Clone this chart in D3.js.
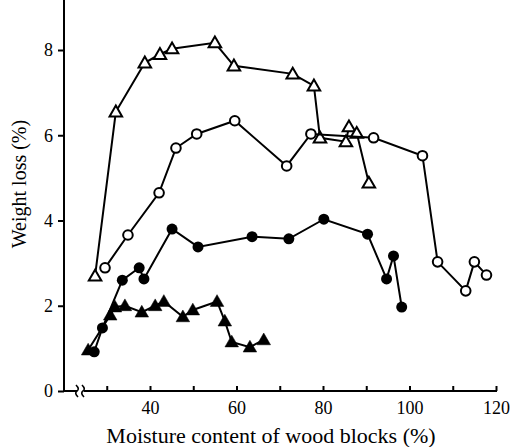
<!DOCTYPE html>
<html>
<head>
<meta charset="utf-8">
<script src="https://cdn.jsdelivr.net/npm/d3@7"></script>
<style>
  body { margin: 0; background: #fff; }
</style>
</head>
<body>
<script>
// moisture content (%) and weight loss (%) for each series
const openTriX = [27.3, 32.1, 38.8, 42.3, 45.1, 55.0, 59.4, 73.0, 77.9, 79.3, 85.3, 86.0, 87.8, 90.6];
const openTriY = [2.70, 6.55, 7.70, 7.90, 8.03, 8.17, 7.63, 7.44, 7.16, 5.94, 5.85, 6.20, 6.05, 4.88];

const openCircX = [29.6, 34.9, 42.1, 46.0, 50.8, 59.6, 71.6, 77.2, 91.7, 103.0, 106.5, 113.0, 115.0, 117.8];
const openCircY = [2.89, 3.66, 4.65, 5.70, 6.03, 6.34, 5.28, 6.03, 5.94, 5.52, 3.03, 2.35, 3.03, 2.72];

const fillCircX = [27.1, 29.0, 33.6, 37.5, 38.6, 45.1, 51.1, 63.6, 72.1, 80.2, 90.3, 94.7, 96.3, 98.2];
const fillCircY = [0.92, 1.48, 2.60, 2.89, 2.63, 3.80, 3.38, 3.62, 3.57, 4.03, 3.68, 2.63, 3.17, 1.97];

const fillTriX = [25.7, 30.8, 31.9, 34.2, 38.1, 41.2, 43.2, 47.6, 49.9, 55.5, 57.3, 58.9, 63.1, 66.3];
const fillTriY = [0.96, 1.78, 1.97, 2.00, 1.85, 2.00, 2.10, 1.74, 1.90, 2.10, 1.64, 1.15, 1.03, 1.20];

const xTicks = [30, 40, 50, 60, 70, 80, 90, 100, 110, 120];
const xLabels = [40, 60, 80, 100, 120];
const yTicks = [0, 2, 4, 6, 8];

const W = 514, H = 447;
const serif = '"Liberation Serif", "Times New Roman", "DejaVu Serif", serif';
const svg = d3.select('body').append('svg').attr('width', W).attr('height', H);

const x = d3.scaleLinear().domain([40, 120]).range([150, 496]);
const y = d3.scaleLinear().domain([0, 8]).range([391, 50]);
const axisX = 64;

// y axis
const yAxis = svg.append('g').attr('transform', `translate(${axisX},0)`)
  .call(d3.axisLeft(y).tickValues(yTicks).tickSize(6).tickPadding(5).tickFormat(d3.format('d')));
yAxis.attr('font-family', null).attr('font-size', null);
yAxis.select('.domain').remove();
yAxis.selectAll('.tick line').attr('stroke', '#000').attr('stroke-width', 2);
yAxis.selectAll('.tick text').style('font-family', serif).style('font-size', '18px').attr('fill', '#000');
svg.append('line').attr('x1', axisX).attr('x2', axisX)
  .attr('y1', y(0) + 1).attr('y2', y(9.85))
  .attr('stroke', '#000').attr('stroke-width', 2);

// x axis
const xAxis = svg.append('g').attr('transform', `translate(0,${y(0)})`)
  .call(d3.axisBottom(x).tickValues(xTicks).tickSize(-5).tickPadding(10)
    .tickFormat(d => xLabels.includes(d) ? d : ''));
xAxis.attr('font-family', null).attr('font-size', null);
xAxis.select('.domain').remove();
xAxis.selectAll('.tick line').attr('stroke', '#000').attr('stroke-width', 2);
xAxis.selectAll('.tick text').style('font-family', serif).style('font-size', '18px').attr('fill', '#000');
svg.append('line').attr('x1', axisX - 1).attr('x2', x(120) + 1)
  .attr('y1', y(0)).attr('y2', y(0))
  .attr('stroke', '#000').attr('stroke-width', 2);

// axis break
svg.append('rect').attr('x', 77).attr('y', y(0) - 3).attr('width', 7).attr('height', 6).attr('fill', '#fff');
[77, 83].forEach(bx => {
  svg.append('path')
    .attr('d', `M${bx - 1},${y(0) - 6} Q${bx + 3},${y(0) - 2} ${bx},${y(0)} T${bx + 1},${y(0) + 6}`)
    .attr('fill', 'none').attr('stroke', '#000').attr('stroke-width', 1.6);
});

// titles
svg.append('text').attr('x', 271).attr('y', 443).attr('text-anchor', 'middle')
  .style('font-family', serif).style('font-size', '22px')
  .text('Moisture content of wood blocks (%)');
svg.append('text').attr('transform', 'translate(26,184) rotate(-90)').attr('text-anchor', 'middle')
  .style('font-family', serif).style('font-size', '20px')
  .text('Weight loss (%)');

const line = d3.line().x(d => x(d[0])).y(d => y(d[1]));
const tri = d3.symbol().type(d3.symbolTriangle);

function drawSeries(xs, ys, kind, filled) {
  const pts = xs.map((v, i) => [v, ys[i]]);
  svg.append('path').datum(pts).attr('d', line)
    .attr('fill', 'none').attr('stroke', '#000').attr('stroke-width', 2);
  const g = svg.append('g');
  if (kind === 'circle') {
    g.selectAll('circle').data(pts).join('circle')
      .attr('cx', d => x(d[0])).attr('cy', d => y(d[1]))
      .attr('r', filled ? 5.5 : 4.8)
      .attr('fill', filled ? '#000' : '#fff')
      .attr('stroke', '#000').attr('stroke-width', filled ? 0 : 2);
  } else {
    g.selectAll('path').data(pts).join('path')
      .attr('transform', d => `translate(${x(d[0])},${y(d[1]) + 1})`)
      .attr('d', tri.size(filled ? 80 : 68))
      .attr('fill', filled ? '#000' : '#fff')
      .attr('stroke', '#000').attr('stroke-width', filled ? 0.5 : 2);
  }
}

drawSeries(openTriX, openTriY, 'tri', false);
drawSeries(openCircX, openCircY, 'circle', false);
drawSeries(fillCircX, fillCircY, 'circle', true);
drawSeries(fillTriX, fillTriY, 'tri', true);
</script>
</body>
</html>
